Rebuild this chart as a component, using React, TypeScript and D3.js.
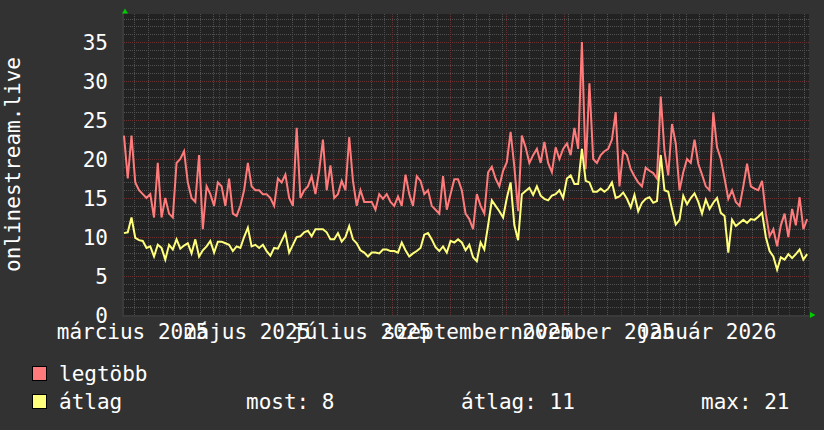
import React from 'react';
import * as d3 from 'd3';

const W = 824;
const H = 430;

// time span of the graph (one year) and data step
const startDate = new Date(2025, 2, 11, 10);
const endDate = new Date(2026, 2, 11, 10);
const stepDays = 2;

// "legtöbb" series (daily maximum), one value every 2 days
const legtobb = [
  23, 17.5, 23, 17, 16, 15.5, 15, 15.5, 12.5, 19.5,
  12.5, 15, 13, 12.5, 19.5, 20, 21, 17, 15, 14.5,
  20.5, 11, 16.5, 15.5, 14, 17, 16.5, 14, 17.5, 13,
  12.7, 14, 16, 19.5, 16.5, 16, 16, 15.5, 15.5, 15,
  14, 17.5, 17, 18, 15, 14, 24, 15, 16, 16.5,
  17.8, 15.5, 18.5, 22.5, 16, 19.2, 15, 15.5, 17.2, 16,
  22.8, 17.2, 14, 16, 14.5, 14.5, 14.5, 13.5, 15.5, 14.9,
  15.5, 14.5, 14, 15.2, 14, 18, 15.5, 14, 17.8, 17.2,
  15.5, 16, 14, 13.5, 13, 17.8, 13.5, 15.5, 17.4, 17.4,
  16, 13, 12.3, 11, 15.5, 14, 13, 18.3, 19, 17.5,
  16.5, 18.5, 19.6, 23.5, 19, 13.3, 23, 21.5, 19.5, 20.5,
  21.3, 19.5, 22.2, 19.5, 18.3, 21.5, 20, 21.3, 22, 20.5,
  24, 21.3, 35, 18.7, 29.7, 20, 19.5, 20.5, 21, 21.3,
  22.5, 26, 16.5, 21, 20.5, 18.7, 17.8, 17, 16.5, 18.9,
  18.5, 18.2, 17.5, 28, 21, 17.9, 24.5, 22, 16, 18.3,
  20, 19.5, 22.5, 19.4, 18, 16.5, 16, 26, 21.5, 20,
  17.5, 14.9, 16, 14.5, 14, 16.5, 19.4, 16.5, 16.2, 16,
  17.2, 13, 10.1, 11, 8.8, 11.5, 13, 10, 13.6, 11.5,
  15.1, 11, 12.3,
];

// "átlag" series (daily average), one value every 2 days
const atlag = [
  10.5, 10.6, 12.5, 9.9, 9.6, 9.5, 8.6, 8.8, 7.5, 9.0,
  8.6, 7.1, 9.0, 8.4, 9.7, 8.5, 8.9, 9.2, 7.9, 9.7,
  7.5, 8.3, 8.8, 9.5, 8.0, 9.4, 9.4, 9.2, 9.0, 8.2,
  8.8, 8.6, 10.0, 11.2, 8.8, 9.0, 8.6, 9.0, 8.2, 7.6,
  8.6, 8.5, 9.5, 10.5, 8.0, 9.0, 10.0, 10.1, 10.6, 10.8,
  10.1, 11, 11, 11, 10.6, 9.7, 9.7, 10.5, 9.4, 10,
  11.4, 9.7, 9.2, 8.3, 8.0, 7.5, 8.0, 8.0, 7.9, 8.4,
  8.4, 8.2, 8.2, 8.0, 9.3, 8.3, 7.5, 7.9, 8.2, 8.6,
  10.3, 10.5, 9.7, 8.7, 8.2, 8.8, 8.0, 9.5, 9.3, 9.7,
  9.3, 8.3, 9.0, 7.4, 6.9, 9.3, 8.4, 11.5, 14.7, 14,
  13.3, 12.5, 15, 17, 11.5, 9.6, 15.5, 15.9, 16.3, 15.4,
  16.5, 15.3, 14.9, 14.7, 15.3, 15.5, 16, 15, 17.5, 17.9,
  16.8, 16.8, 21.3, 17.2, 17, 15.8, 15.8, 16.2, 15.8, 16.2,
  17, 15, 15.2, 15.7, 14.9, 13.8, 15.4, 13.3, 14.4, 14.9,
  15.1, 14.4, 14.6, 20.5, 16, 15.8, 13.6, 11.6, 12.2, 15.3,
  14.2, 15, 15.6, 14.5, 13, 14.8, 13.6, 14.4, 15, 13.1,
  12.7, 8, 12.2, 11.4, 11.8, 12.2, 11.8, 12.3, 12.2, 12.6,
  13.1, 10, 8.2, 7.5, 5.8, 7.4, 7.1, 7.8, 7.3, 7.8,
  8.4, 7.1, 7.8,
];

const yMajorTicks = [0, 5, 10, 15, 20, 25, 30, 35];
const xLabelMonths = [
  new Date(2025, 2, 1), new Date(2025, 4, 1), new Date(2025, 6, 1),
  new Date(2025, 8, 1), new Date(2025, 10, 1), new Date(2026, 0, 1),
];
const xLabelTexts = ['március 2025', 'május 2025', 'július 2025', 'szeptember 2025', 'november 2025', 'január 2026'];
const seriesNames = ['legtöbb', 'átlag'];
const seriesColors = ['#ff7b7b', '#ffff7b'];
const statLabels = ['most: 8', 'átlag: 11', 'max: 21'];
const yTitle = 'onlinestream.live';

const FONT = '"DejaVu Sans Mono", monospace';
const FS = 21;

export default function App() {
  const left = 124, right = 809, top = 14, bottom = 315;
  const x = d3.scaleTime().domain([startDate, endDate]).range([left, right]);
  const y = d3.scaleLinear().domain([0, 38.6]).range([bottom, top]);

  const dateAt = (i: number) => d3.timeDay.offset(startDate, i * stepDays);
  const line = d3.line<number>().x((_, i) => x(dateAt(i))).y((d) => y(d));

  const months = d3.timeMonth.range(startDate, endDate);
  const monthX = months.map((d) => x(d));
  const weeks = d3.timeMonday
    .range(startDate, endDate)
    .filter((d) => monthX.every((mx) => Math.abs(mx - x(d)) > 2));
  const yMinor = d3.range(0, 39, 1).filter((v) => v % 5 !== 0);
  const r = (v: number) => Math.round(v);

  const minorColor = '#505050';
  const majorColor = '#6a3030';

  return (
    <svg width={W} height={H} style={{ position: 'absolute', left: 0, top: 0, display: 'block' }}
      xmlns="http://www.w3.org/2000/svg">
      <defs>
        <pattern id="hMinor" patternUnits="userSpaceOnUse" width={2} height={1}>
          <rect x={0} y={0} width={1} height={1} fill={minorColor} />
        </pattern>
        <pattern id="vMinor" patternUnits="userSpaceOnUse" width={1} height={2}>
          <rect x={0} y={0} width={1} height={1} fill={minorColor} />
        </pattern>
        <pattern id="hMajor" patternUnits="userSpaceOnUse" width={2} height={1}>
          <rect x={0} y={0} width={1} height={1} fill={majorColor} />
        </pattern>
        <pattern id="vMajor" patternUnits="userSpaceOnUse" width={1} height={2}>
          <rect x={0} y={0} width={1} height={1} fill={majorColor} />
        </pattern>
      </defs>
      <rect x={0} y={0} width={W} height={H} fill="#323232" />
      <rect x={left} y={top} width={right - left} height={bottom - top} fill="#222222" />

      {/* minor grid */}
      <g shapeRendering="crispEdges">
        {yMinor.map((v) => (
          <rect key={'ym' + v} x={left} y={r(y(v))} width={right - left} height={1} fill="url(#hMinor)" />
        ))}
        {weeks.map((d, i) => (
          <rect key={'xm' + i} x={r(x(d))} y={top} width={1} height={bottom - top + 2} fill="url(#vMinor)" />
        ))}
      </g>
      {/* major grid */}
      <g shapeRendering="crispEdges">
        {yMajorTicks.map((v) => (
          <rect key={'yM' + v} x={left - 2} y={r(y(v))} width={right - left + 2} height={1} fill="url(#hMajor)" />
        ))}
        {months.map((d, i) => (
          <rect key={'xM' + i} x={r(x(d))} y={top} width={1} height={bottom - top + 3} fill="url(#vMajor)" />
        ))}
      </g>

      {/* axes */}
      <g stroke="#3a3a3a" strokeWidth={2} shapeRendering="crispEdges">
        <line x1={left - 1} x2={left - 1} y1={12} y2={bottom + 2} />
        <line x1={left - 2} x2={812} y1={bottom + 1} y2={bottom + 1} />
      </g>
      <polygon points="122,13.5 128,13.5 125,8.5" fill="#00cc00" />
      <polygon points="810,312 810,318 815.5,315" fill="#00cc00" />

      {/* data lines */}
      <path d={line(legtobb) || ''} fill="none" stroke={seriesColors[0]} strokeWidth={2} strokeLinejoin="miter" />
      <path d={line(atlag) || ''} fill="none" stroke={seriesColors[1]} strokeWidth={2} strokeLinejoin="miter" />

      {/* y labels */}
      <g fill="#ffffff" fontFamily={FONT} fontSize={FS} textAnchor="end">
        {yMajorTicks.map((v) => (
          <text key={'yl' + v} x={108} y={y(v) + 7.5}>{v}</text>
        ))}
      </g>
      <text fill="#ffffff" fontFamily={FONT} fontSize={FS} textAnchor="middle"
        transform={`translate(20, ${(top + bottom) / 2}) rotate(-90)`}>{yTitle}</text>

      {/* x labels */}
      <g fill="#ffffff" fontFamily={FONT} fontSize={FS} textAnchor="middle">
        {xLabelMonths.map((d, i) => (
          <text key={'xl' + i} x={x(d3.timeDay.offset(d, 15))} y={339}>{xLabelTexts[i]}</text>
        ))}
      </g>

      {/* legend */}
      <g fontFamily={FONT} fontSize={FS} fill="#ffffff">
        {seriesNames.map((n, i) => (
          <g key={n}>
            <rect x={32.5} y={366.5 + i * 28} width={14} height={14} fill={seriesColors[i]} stroke="#000" strokeWidth={1} />
            <text x={59} y={381 + i * 28}>{n}</text>
          </g>
        ))}
        <text x={246} y={409}>{statLabels[0]}</text>
        <text x={461} y={409}>{statLabels[1]}</text>
        <text x={701} y={409}>{statLabels[2]}</text>
      </g>
    </svg>
  );
}
